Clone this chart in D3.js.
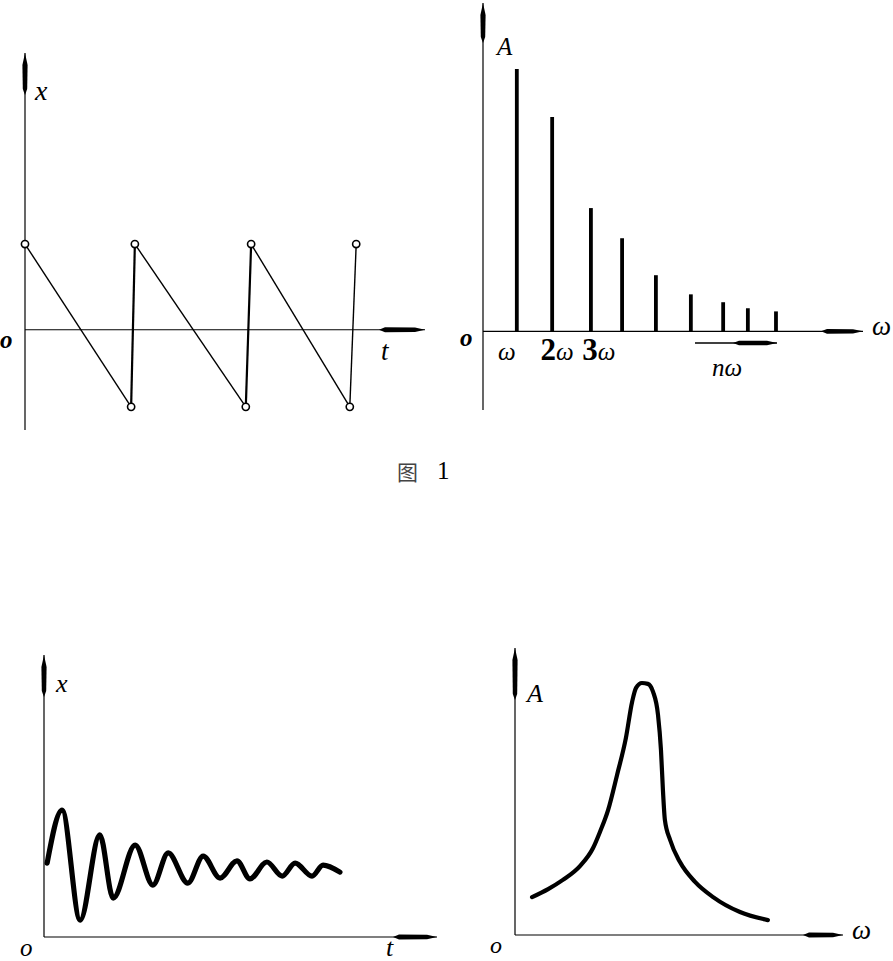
<!DOCTYPE html>
<html>
<head>
<meta charset="utf-8">
<script src="https://cdn.jsdelivr.net/npm/d3@7/dist/d3.min.js"></script>
<style>
  html, body { margin: 0; padding: 0; background: #fff; }
  svg { display: block; }
</style>
</head>
<body>
<svg id="chart" width="893" height="961"></svg>
<script>
// ---------------- DATA ----------------
// Panel 1: sawtooth x(t)
const sawT = [0, 1.99, 2.06, 4.14, 4.24, 6.09, 6.21];
const sawX = [1, -0.9, 1, -0.9, 1, -0.9, 1];

// Panel 2: line spectrum A(nω)
const specFreq = [0.89, 1.82, 2.84, 3.66, 4.55, 5.47, 6.32, 6.97, 7.71];
const specAmp  = [1.0, 0.817, 0.47, 0.355, 0.214, 0.141, 0.111, 0.088, 0.076];
const specLabels = ["ω", "2ω", "3ω"];

// Panel 3: damped oscillation x(t)
const dampT = [0.08, 0.46, 0.92, 1.42, 1.76, 2.32, 2.77, 3.16, 3.66, 4.05, 4.48, 4.91, 5.24, 5.67, 6.06, 6.39, 6.82, 7.10, 7.53];
const dampX = [2.62, 4.50, 0.60, 3.62, 1.38, 3.26, 1.84, 2.98, 1.91, 2.87, 2.09, 2.70, 2.06, 2.66, 2.16, 2.62, 2.16, 2.55, 2.30];

// Panel 4: resonance curve A(ω)
const resW = [0.52, 1.01, 1.46, 1.98, 2.38, 2.59, 2.84, 3.11, 3.38, 3.57, 3.69, 3.87, 4.05, 4.21, 4.36, 4.45, 4.51, 4.57, 4.73, 5.03, 5.49, 6.04, 6.86, 7.71];
const resA = [1.32, 1.60, 1.92, 2.40, 3.03, 3.59, 4.36, 5.57, 6.86, 8.12, 8.61, 8.78, 8.75, 8.47, 7.67, 6.45, 5.05, 4.01, 3.31, 2.54, 1.85, 1.32, 0.80, 0.52];

const caption = "图";
const captionNum = "1";

// ---------------- DRAW ----------------
const SERIF = "'Liberation Serif', 'Times New Roman', 'DejaVu Serif', serif";
const svg = d3.select("#chart");

function vArrowAxis(g, x, yTop, yBot, thickLen) {
  g.append("line").attr("x1", x).attr("x2", x).attr("y1", yTop).attr("y2", yBot)
    .attr("stroke", "#000").attr("stroke-width", 1.2);
  const p = d3.path();
  p.moveTo(x, yTop);
  p.lineTo(x + 2.6, yTop + 12);
  p.lineTo(x + 2.2, yTop + thickLen - 6);
  p.lineTo(x, yTop + thickLen);
  p.lineTo(x - 2.2, yTop + thickLen - 6);
  p.lineTo(x - 2.6, yTop + 12);
  p.closePath();
  g.append("path").attr("d", p.toString()).attr("fill", "#000");
}
function hArrowAxis(g, y, xL, xR, thickLen) {
  g.append("line").attr("x1", xL).attr("x2", xR).attr("y1", y).attr("y2", y)
    .attr("stroke", "#000").attr("stroke-width", 1.2);
  const p = d3.path();
  p.moveTo(xR, y);
  p.lineTo(xR - 10, y - 2.2);
  p.lineTo(xR - thickLen + 6, y - 2.4);
  p.lineTo(xR - thickLen, y);
  p.lineTo(xR - thickLen + 6, y + 2.4);
  p.lineTo(xR - 10, y + 2.2);
  p.closePath();
  g.append("path").attr("d", p.toString()).attr("fill", "#000");
}
function label(g, txt, x, y, size, opts = {}) {
  return g.append("text").attr("x", x).attr("y", y)
    .attr("font-family", SERIF)
    .attr("font-size", size)
    .attr("font-style", opts.italic === false ? "normal" : "italic")
    .attr("font-weight", opts.bold ? "bold" : "normal")
    .attr("text-anchor", opts.anchor || "start")
    .attr("fill", "#000")
    .text(txt);
}

// ---- Panel 1 ----
{
  const g = svg.append("g");
  const t = d3.scaleLinear().domain([0, 7.5]).range([25, 425]);
  const x = d3.scaleLinear().domain([-1.17, 3.23]).range([430, 53]);
  vArrowAxis(g, t(0), x(3.23), x(-1.17), 42);
  hArrowAxis(g, x(0), t(0), t(7.5), 46);
  const segs = d3.pairs(d3.range(sawT.length));
  g.selectAll("line.seg").data(segs).join("line").attr("class", "seg")
    .attr("x1", d => t(sawT[d[0]])).attr("y1", d => x(sawX[d[0]]))
    .attr("x2", d => t(sawT[d[1]])).attr("y2", d => x(sawX[d[1]]))
    .attr("stroke", "#000")
    .attr("stroke-width", d => (sawX[d[1]] > sawX[d[0]] ? (d[1] === sawT.length - 1 ? 1.4 : 2.2) : 1.4));
  g.selectAll("circle").data(d3.range(sawT.length)).join("circle")
    .attr("cx", i => t(sawT[i])).attr("cy", i => x(sawX[i])).attr("r", 3.6)
    .attr("fill", "#fff").attr("stroke", "#000").attr("stroke-width", 1.6);
  label(g, "x", 35, 100, 28);
  label(g, "o", 0, 348, 25, { bold: true });
  label(g, "t", 381, 360, 27);
}

// ---- Panel 2 ----
{
  const g = svg.append("g");
  const w = d3.scaleLinear().domain([0, 10]).range([483, 863]);
  const A = d3.scaleLinear().domain([-0.30, 1.252]).range([410, 3]);
  vArrowAxis(g, w(0), A(1.252), A(-0.30), 40);
  hArrowAxis(g, A(0), w(0), w(10), 42);
  g.selectAll("line.bar").data(specFreq).join("line").attr("class", "bar")
    .attr("x1", d => w(d)).attr("x2", d => w(d))
    .attr("y1", A(0)).attr("y2", (d, i) => A(specAmp[i]))
    .attr("stroke", "#000").attr("stroke-width", 3.8);
  const lbl = g.selectAll("text.h").data(specLabels).join("text").attr("class", "h")
    .attr("x", (d, i) => w(specFreq[i]) + [-10, 5, 8][i])
    .attr("y", 360)
    .attr("text-anchor", "middle")
    .attr("font-family", SERIF)
    .attr("font-size", 25)
    .attr("font-style", "italic");
  lbl.each(function(d) {
    const s = d3.select(this);
    if (d.length > 1) {
      s.append("tspan").attr("font-style", "normal").attr("font-weight", "bold").attr("font-size", 31).text(d[0]);
      s.append("tspan").text(d.slice(1));
    } else s.text(d);
  });
  // nω arrow
  g.append("line").attr("x1", 695).attr("x2", 777).attr("y1", 343).attr("y2", 343)
    .attr("stroke", "#000").attr("stroke-width", 1.3);
  {
    const p = d3.path();
    p.moveTo(777, 343); p.lineTo(767, 340.8); p.lineTo(739, 340.8); p.lineTo(733, 343);
    p.lineTo(739, 345.2); p.lineTo(767, 345.2); p.closePath();
    g.append("path").attr("d", p.toString()).attr("fill", "#000");
  }
  label(g, "nω", 712, 376, 25);
  label(g, "A", 497, 55, 25);
  label(g, "o", 460, 346, 25, { bold: true });
  label(g, "ω", 872, 335, 27);
}

// ---- Panel 3 ----
{
  const g = svg.append("g");
  const t = d3.scaleLinear().domain([0, 10]).range([44, 437]);
  const x = d3.scaleLinear().domain([0, 10]).range([937, 655]);
  vArrowAxis(g, t(0), x(10), x(0), 42);
  hArrowAxis(g, x(0), t(0), t(10), 44);
  const line = d3.line().x((d, i) => t(dampT[i])).y(d => x(d)).curve(d3.curveMonotoneX);
  g.append("path").attr("d", line(dampX)).attr("fill", "none")
    .attr("stroke", "#000").attr("stroke-width", 5.2).attr("stroke-linecap", "round").attr("stroke-linejoin", "round");
  label(g, "x", 56, 692, 26);
  label(g, "o", 20, 956, 25);
  label(g, "t", 386, 956, 26);
}

// ---- Panel 4 ----
{
  const g = svg.append("g");
  const w = d3.scaleLinear().domain([0, 10]).range([515, 843]);
  const A = d3.scaleLinear().domain([0, 10]).range([935, 648]);
  vArrowAxis(g, w(0), A(10), A(0), 52);
  hArrowAxis(g, A(0), w(0), w(10), 40);
  const line = d3.line().x((d, i) => w(resW[i])).y(d => A(d)).curve(d3.curveMonotoneX);
  g.append("path").attr("d", line(resA)).attr("fill", "none")
    .attr("stroke", "#000").attr("stroke-width", 4.2).attr("stroke-linecap", "round").attr("stroke-linejoin", "round");
  label(g, "A", 527, 702, 26);
  label(g, "o", 490, 953, 24);
  label(g, "ω", 852, 939, 27);
}

// ---- Caption ----
svg.append("text").attr("x", 397).attr("y", 480).attr("font-size", 21)
  .attr("font-family", "'Noto Sans CJK SC', sans-serif").attr("fill", "#444").text(caption);
svg.append("text").attr("x", 437).attr("y", 479).attr("font-size", 25)
  .attr("font-family", SERIF).attr("fill", "#000").text(captionNum);
</script>
</body>
</html>
